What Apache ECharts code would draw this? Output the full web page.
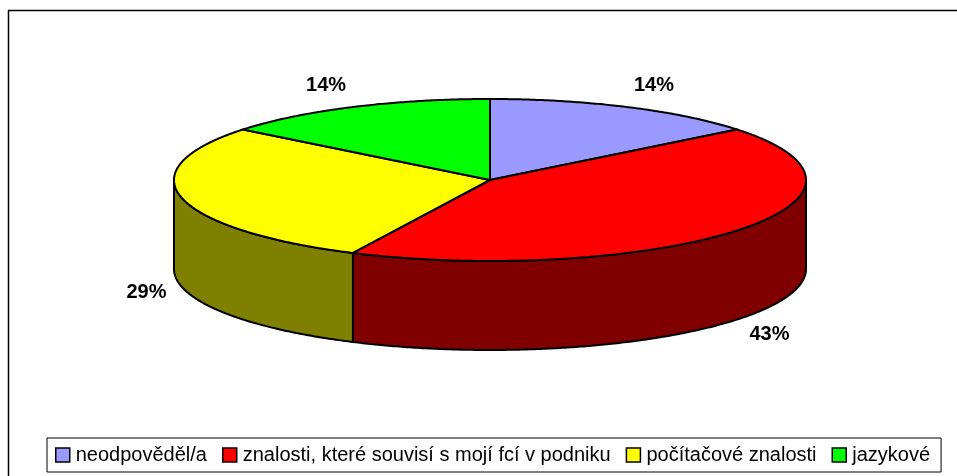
<!DOCTYPE html>
<html>
<head>
<meta charset="utf-8">
<script src="https://cdn.jsdelivr.net/npm/echarts@6/dist/echarts.min.js"></script>
<style>
html,body{margin:0;padding:0;background:#fff;}
#chart{width:957px;height:476px;}
</style>
</head>
<body>
<div id="chart"></div>
<script>
const categories = ['neodpověděl/a', 'znalosti, které souvisí s mojí fcí v podniku', 'počítačové znalosti', 'jazykové'];
const values = [14.3, 42.9, 28.6, 14.3];
const topColors = ['#9999FF', '#FF0000', '#FFFF00', '#00FF00'];
const sideColors = ['#4D4D80', '#800000', '#808000', '#008000'];

const FONT = '"Liberation Sans", Arial, sans-serif';
const total = values.reduce((a, b) => a + b, 0);
const starts = [];
{ let acc = 0; values.forEach(v => { starts.push(acc); acc += v; }); }

// layout of the projected pie (style constants)
const CX = 490, CY = 180, RX = 316, RY = 81, DEPTH = 89;

function pt(t, dy) {
  return [CX + RX * Math.sin(t), CY - RY * Math.cos(t) + (dy || 0)];
}
function arc(a, b, dy) {
  const pts = [];
  const n = Math.max(2, Math.ceil(Math.abs(b - a) / (Math.PI / 360)));
  for (let k = 0; k <= n; k++) pts.push(pt(a + (b - a) * k / n, dy));
  return pts;
}

function renderSlice(params, api) {
  const i = params.seriesIndex;
  const v = api.value(0);
  const a = starts[i] / total * Math.PI * 2;
  const b = a + v / total * Math.PI * 2;
  const children = [];
  // visible side wall (front half: PI/2 .. 3PI/2)
  const s = Math.max(a, Math.PI / 2), e = Math.min(b, Math.PI * 1.5);
  if (e > s) {
    const pts = arc(s, e, 0).concat(arc(e, s, DEPTH));
    children.push({
      type: 'polygon',
      shape: { points: pts },
      style: { fill: sideColors[i], stroke: '#000', lineWidth: 2, lineJoin: 'round' }
    });
  }
  // top face
  const topPts = [[CX, CY]].concat(arc(a, b, 0));
  children.push({
    type: 'polygon',
    shape: { points: topPts },
    style: { fill: topColors[i], stroke: '#000', lineWidth: 2, lineJoin: 'round' }
  });
  // percentage label
  const m = (a + b) / 2;
  const sn = Math.sin(m), cs = Math.cos(m);
  const lx = CX + RX * 1.05 * sn;
  const ly = CY - RY * 1.29 * cs + (cs < 0 ? DEPTH : 0);
  children.push({
    type: 'text',
    z2: 10,
    style: {
      text: Math.round(v / total * 100) + '%',
      x: lx, y: ly,
      fill: '#000',
      font: 'bold 20px ' + FONT,
      align: sn >= 0 ? 'left' : 'right',
      verticalAlign: 'middle'
    }
  });
  return { type: 'group', children: children };
}

const chart = echarts.init(document.getElementById('chart'), null, { renderer: 'canvas' });
const option = {
  backgroundColor: '#fff',
  animation: false,
  graphic: [{
    type: 'rect',
    shape: { x: 8.5, y: 10.5, width: 1200, height: 1200 },
    style: { fill: 'none', stroke: '#000', lineWidth: 1.5 },
    silent: true
  }],
  legend: {
    left: 47,
    top: 438,
    orient: 'horizontal',
    padding: [7, 11, 7, 8],
    borderColor: '#000',
    borderWidth: 1,
    backgroundColor: '#fff',
    itemWidth: 14,
    itemHeight: 14,
    itemGap: 15,
    selectedMode: false,
    textStyle: { fontFamily: FONT, fontSize: 20, color: '#000', padding: [0, 0, 0, 1] },
    data: categories.map((c, i) => ({
      name: c,
      icon: 'rect',
      itemStyle: { color: topColors[i], borderColor: '#000', borderWidth: 1.5 }
    }))
  },
  series: categories.map((c, i) => ({
    type: 'custom',
    name: c,
    coordinateSystem: 'none',
    itemStyle: { color: topColors[i] },
    renderItem: renderSlice,
    data: [[values[i]]]
  }))
};
chart.setOption(option);
</script>
</body>
</html>
